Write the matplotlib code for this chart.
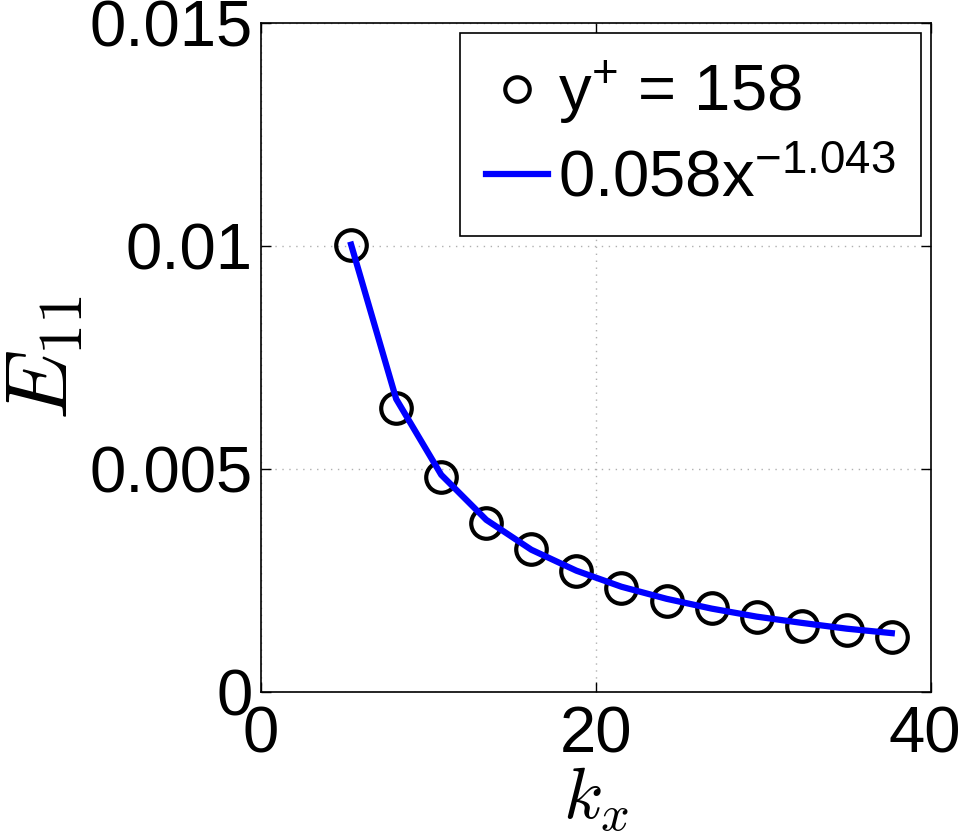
import matplotlib
matplotlib.use("Agg")
import matplotlib.pyplot as plt
import matplotlib.transforms as mtransforms

plt.rcParams['font.family'] = ['Liberation Sans', 'DejaVu Sans']
plt.rcParams['mathtext.fontset'] = 'custom'
plt.rcParams['mathtext.rm'] = 'Liberation Sans'
plt.rcParams['mathtext.it'] = 'Liberation Sans:italic'

# wavenumbers and spectrum values
kx = [5.38, 8.07, 10.76, 13.45, 16.14, 18.83, 21.52, 24.21, 26.90, 29.59, 32.28, 34.97, 37.66]
E11 = [0.01002, 0.00637, 0.00482, 0.00378, 0.00321, 0.00271, 0.00234,
       0.00204, 0.00188, 0.00168, 0.00147, 0.00138, 0.00123]
# power-law fit 0.058 x^-1.043 at the same wavenumbers
E11_fit = [0.01003, 0.00657, 0.00487, 0.00386, 0.00319, 0.00272, 0.00236,
           0.00209, 0.00187, 0.00169, 0.00155, 0.00142, 0.00132]

xticks = [0, 20, 40]
yticks = [0, 0.005, 0.01, 0.015]
yticklabels = ['0', '0.005', '0.01', '0.015']

fig = plt.figure(figsize=(9.65, 8.34), dpi=100)
ax = fig.add_axes([261/965, 1 - 692/834, 670/965, 669/834])

ax.plot(kx, E11, 'o', mfc='none', mec='k', ms=22, mew=3,
        label=r'y$^{\mathrm{+}}$ = 158')
ax.plot(kx, E11_fit, '-', color=(0, 0, 1), lw=4.5,
        label=r'0.058x$^{\mathrm{-1.043}}$')

ax.set_xlim(0, 40)
ax.set_ylim(0, 0.015)
ax.set_xticks(xticks)
ax.set_yticks(yticks)
ax.set_yticklabels(yticklabels)
ax.tick_params(direction='in', length=7, width=1, labelsize=47,
               top=True, right=True)
ax.tick_params(axis='x', pad=10)
ax.tick_params(axis='y', pad=6)
ax.grid(True, color='#b0b0b0', linestyle=(0, (1, 4)), linewidth=1)
for s in ax.spines.values():
    s.set_linewidth(1.2)

# last x tick label sits a bit left of its tick, as in the original
fig.canvas.draw()
last = ax.get_xticklabels()[-1]
last.set_transform(last.get_transform() +
                   mtransforms.ScaledTranslation(-6/100, 0, fig.dpi_scale_trans))

ax.set_xlabel(r'$k_x$', fontsize=52, math_fontfamily='cm', labelpad=0)
ax.set_ylabel(r'$E_{11}$', fontsize=64, math_fontfamily='cm', labelpad=2)

leg = ax.legend(loc='upper right', fontsize=47, fancybox=False,
                edgecolor='k', framealpha=1, handlelength=0.95,
                handletextpad=0.15, borderaxespad=0.15, labelspacing=0.35,
                borderpad=0.4, markerscale=0.8)
leg.get_frame().set_linewidth(1.2)

fig.savefig('out.png', dpi=100)
